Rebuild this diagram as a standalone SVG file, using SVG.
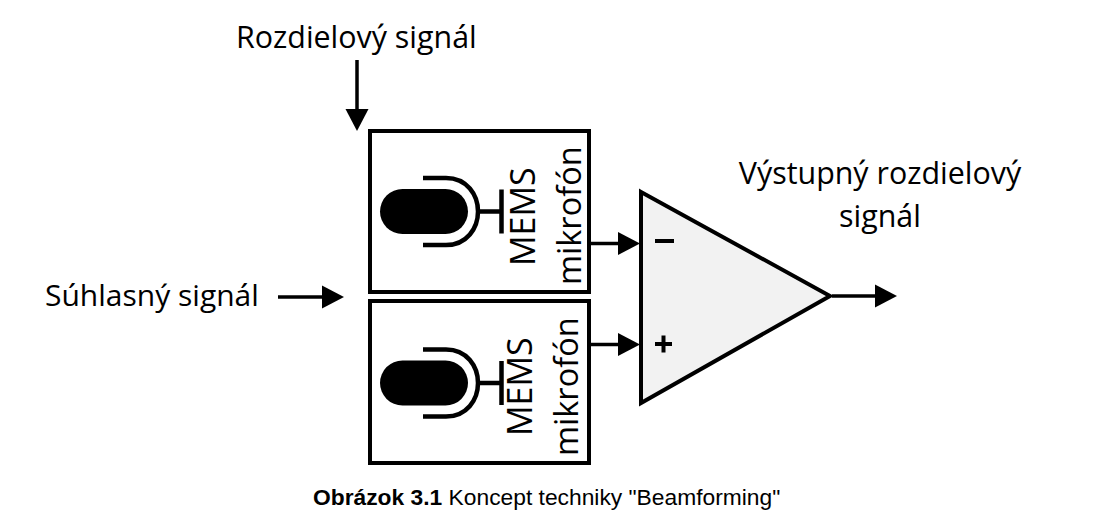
<svg xmlns="http://www.w3.org/2000/svg" width="1094" height="528" viewBox="0 0 1094 528">
<style>
.t{font-family:"Open Sans","Noto Sans",sans-serif;font-size:30.4px;fill:#000}
.m{font-family:"Open Sans","Noto Sans",sans-serif;font-size:34px;fill:#000}
.k{font-family:"Open Sans","Noto Sans",sans-serif;font-size:32.500px;fill:#000}
.box{fill:#fff;stroke:#000;stroke-width:4}
.c{fill:none;stroke:#000;stroke-width:3.5}
.mic{fill:none;stroke:#000;stroke-width:4.5}
.cap{font-family:"Liberation Sans",Arial,sans-serif;font-size:22.8px;fill:#000}
</style>
<defs>
<marker id="a" markerUnits="userSpaceOnUse" markerWidth="24" markerHeight="24" refX="4" refY="12" orient="auto"><path d="M0 0.500L22 12L0 23.500Z" fill="#000"/></marker>
<g id="micg">
<rect x="380" y="189" width="88" height="45" rx="22.5" fill="#000"/>
<path class="mic" d="M423 178H446C467 178 478 195 478 211.500C478 228 467 245 446 245H423"/>
<path class="mic" d="M478 211.500H501M501.500 189.500V233.500"/>
</g>
</defs>
<g id="connectors">
<path class="c" d="M357 60V113" marker-end="url(#a)"/>
<path class="c" d="M278 297H326" marker-end="url(#a)"/>
<path class="c" d="M590 243.500H622" marker-end="url(#a)"/>
<path class="c" d="M590 344.500H622" marker-end="url(#a)"/>
<path class="c" d="M832 296H879" marker-end="url(#a)"/>
</g>
<g id="mic1">
<rect class="box" x="370" y="131" width="219" height="161"/>
<use href="#micg"/>
<text class="m" transform="translate(535 266) rotate(-90)">MEMS</text>
<text class="k" transform="translate(581 285) rotate(-90)">mikrofón</text>
</g>
<g id="mic2">
<rect class="box" x="370" y="301" width="219" height="162"/>
<use href="#micg" y="171.500"/>
<text class="m" transform="translate(532 436) rotate(-90)">MEMS</text>
<text class="k" transform="translate(578 456) rotate(-90)">mikrofón</text>
</g>
<g id="amp">
<path d="M641 192L830 296L641 403Z" fill="#f2f2f2" stroke="#000" stroke-width="4"/>
<path d="M655 241H674M655 344H672M663.500 335.500V352.500" stroke="#000" stroke-width="4" fill="none"/>
</g>
<g id="labels">
<text class="t" x="236" y="47.500">Rozdielový signál</text>
<text class="t" x="45" y="306" style="font-size:30px">Súhlasný signál</text>
<text class="t" x="880" y="184" text-anchor="middle">Výstupný rozdielový</text>
<text class="t" x="880" y="227" text-anchor="middle">signál</text>
<text class="cap" x="313" y="505"><tspan font-weight="bold">Obrázok 3.1</tspan> Koncept techniky "Beamforming"</text>
</g>
</svg>
